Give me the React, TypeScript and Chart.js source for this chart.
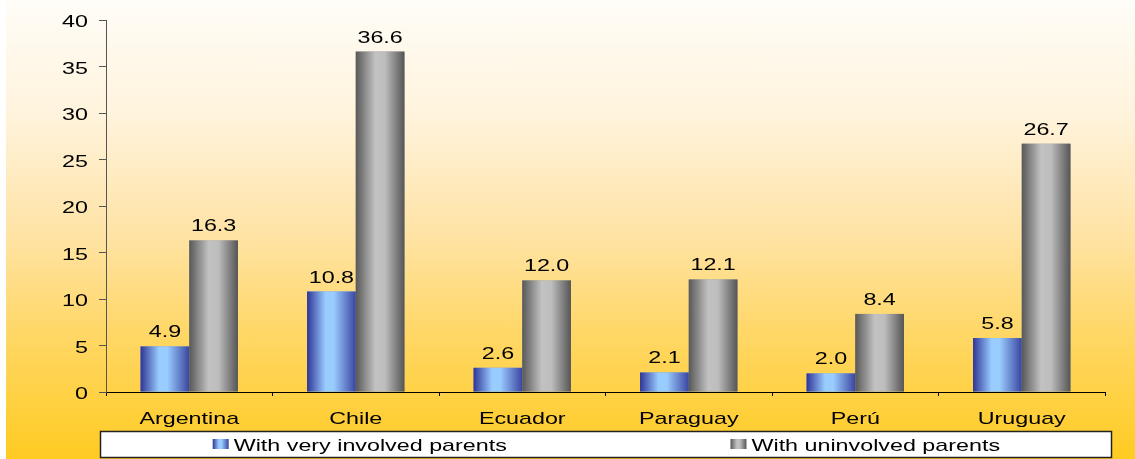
import React, { useEffect, useRef } from "react";
import { Chart, registerables } from "chart.js";

Chart.register(...registerables);

const categories = ["Argentina", "Chile", "Ecuador", "Paraguay", "Perú", "Uruguay"];
const involved = [4.9, 10.8, 2.6, 2.1, 2.0, 5.8];
const uninvolved = [16.3, 36.6, 12.0, 12.1, 8.4, 26.7];
const seriesLabels = ["With very involved parents", "With uninvolved parents"];
const yTicks = [0, 5, 10, 15, 20, 25, 30, 35, 40];

const FONT = "'Liberation Sans', Arial, sans-serif";
const FONT_SIZE = 17;
const SX = 1.37;

const gradientStops: [number, string][][] = [
  [
    [0, "#2F3596"],
    [0.38, "#99CCFF"],
    [0.55, "#99CCFF"],
    [1, "#3A45A0"],
  ],
  [
    [0, "#585858"],
    [0.4, "#C2C2C2"],
    [0.6, "#BDBDBD"],
    [1, "#555555"],
  ],
];

function makeGrad(ctx: CanvasRenderingContext2D, x0: number, x1: number, idx: number) {
  const g = ctx.createLinearGradient(x0, 0, x1, 0);
  for (const [o, c] of gradientStops[idx]) g.addColorStop(o, c);
  return g;
}

function drawText(ctx: CanvasRenderingContext2D, text: string, x: number, y: number, align: CanvasTextAlign) {
  ctx.save();
  ctx.translate(x, y);
  ctx.scale(SX, 1);
  ctx.font = `${FONT_SIZE}px ${FONT}`;
  ctx.fillStyle = "#000";
  ctx.textAlign = align;
  ctx.textBaseline = "alphabetic";
  ctx.fillText(text, 0, 0);
  ctx.restore();
}

function textWidth(ctx: CanvasRenderingContext2D, text: string) {
  ctx.save();
  ctx.font = `${FONT_SIZE}px ${FONT}`;
  const w = ctx.measureText(text).width * SX;
  ctx.restore();
  return w;
}

const barPlugin = {
  id: "gradBars",
  afterDatasetsDraw(chart: any) {
    const ctx = chart.ctx as CanvasRenderingContext2D;
    ctx.save();
    chart.data.datasets.forEach((ds: any, di: number) => {
      const meta = chart.getDatasetMeta(di);
      meta.data.forEach((el: any, i: number) => {
        const { x, y, base, width } = el.getProps(["x", "y", "base", "width"], true);
        const left = x - width / 2;
        ctx.fillStyle = makeGrad(ctx, left, left + width, di);
        ctx.fillRect(left, y, width, base - y);
        drawText(ctx, Number(ds.data[i]).toFixed(1), x, y - 9, "center");
      });
    });
    ctx.restore();
  },
};

const axisLabelPlugin = {
  id: "axisLabels",
  afterDraw(chart: any) {
    const ctx = chart.ctx as CanvasRenderingContext2D;
    const xs = chart.scales.x;
    const ys = chart.scales.y;
    (chart.data.labels as string[]).forEach((lab, i) => {
      drawText(ctx, lab, xs.getPixelForTick(i), chart.chartArea.bottom + 32, "center");
    });
    ys.ticks.forEach((t: any) => {
      drawText(ctx, String(t.value), ys.right - 18, ys.getPixelForValue(t.value) + 7, "right");
    });
  },
};

const legendPlugin = {
  id: "boxLegend",
  afterDraw(chart: any) {
    const ctx = chart.ctx as CanvasRenderingContext2D;
    const bx = 100, by = 431, bw = 1011, bh = 26;
    ctx.save();
    ctx.fillStyle = "#FFFFFF";
    ctx.fillRect(bx, by, bw, bh);
    ctx.strokeStyle = "#222";
    ctx.lineWidth = 1.5;
    ctx.strokeRect(bx + 0.5, by + 0.5, bw, bh);
    chart.data.datasets.forEach((ds: any, di: number) => {
      const tw = textWidth(ctx, ds.label);
      const itemW = 16 + 5 + tw;
      const center = bx + bw / 4 + (di * bw) / 2 + 7;
      const sx = center - itemW / 2;
      const my = by + bh / 2;
      ctx.fillStyle = makeGrad(ctx, sx, sx + 16, di);
      ctx.fillRect(sx, my - 5, 16, 10);
      drawText(ctx, ds.label, sx + 21, my + 6.5, "left");
    });
    ctx.restore();
  },
};

export default function App() {
  const ref = useRef<HTMLCanvasElement>(null);

  useEffect(() => {
    document.body.style.margin = "0";
    const chart = new Chart(ref.current as HTMLCanvasElement, {
      type: "bar",
      data: {
        labels: categories,
        datasets: [
          { label: seriesLabels[0], data: involved, backgroundColor: "#6F9BE0", categoryPercentage: 0.585, barPercentage: 1 },
          { label: seriesLabels[1], data: uninvolved, backgroundColor: "#9A9A9A", categoryPercentage: 0.585, barPercentage: 1 },
        ],
      },
      options: {
        responsive: false,
        animation: false,
        layout: { padding: { left: 0, top: 20, right: 30, bottom: 29 } },
        plugins: { legend: { display: false }, tooltip: { enabled: false } },
        scales: {
          x: {
            afterFit: (s: any) => { s.height = 38; },
            grid: { offset: true, drawOnChartArea: false, tickLength: 4, color: "#000" },
            border: { color: "#000" },
            ticks: { display: false },
          },
          y: {
            min: 0,
            max: 40,
            afterFit: (s: any) => { s.width = 106; },
            afterBuildTicks: (s: any) => { s.ticks = yTicks.map((v) => ({ value: v })); },
            grid: { drawOnChartArea: false, tickLength: 7, color: "#555" },
            border: { color: "#555" },
            ticks: { display: false },
          },
        },
      },
      plugins: [barPlugin, axisLabelPlugin, legendPlugin],
    });
    return () => chart.destroy();
  }, []);

  return (
    <div
      style={{
        position: "absolute",
        left: 0,
        top: 0,
        width: 1135,
        height: 459,
        background:
          "linear-gradient(to bottom, #FFFDF8 0%, #FFF3DC 25%, #FFE4A8 50%, #FFD660 75%, #FFCB22 100%)",
      }}
    >
      <div style={{ position: "absolute", left: 0, top: 0, width: 6, height: 459, background: "#FFFFFF" }} />
      <canvas ref={ref} width={1135} height={459} style={{ display: "block", position: "relative" }} />
    </div>
  );
}
